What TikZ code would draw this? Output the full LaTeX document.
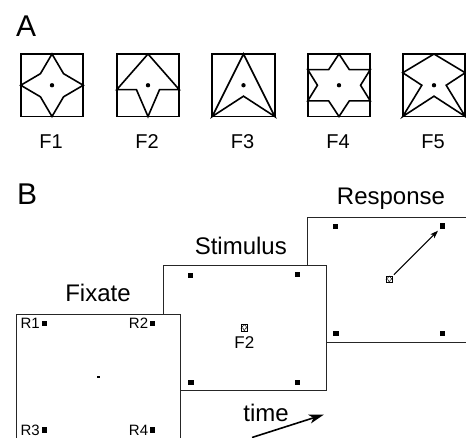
\documentclass[tikz,border=0pt]{standalone}
\usepackage{fontspec}
\setmainfont{Liberation Sans}
\usetikzlibrary{arrows.meta}
\begin{document}
\begin{tikzpicture}[x=1pt,y=-1pt,
  figbox/.style={draw, line width=1.7pt, minimum size=62.5pt, inner sep=0pt},
  shp/.style={line width=1.6pt, line join=miter},
  fdot/.style={circle, fill=black, inner sep=0pt, minimum size=4.4pt},
  panel/.style={draw=black!85, fill=white, line width=0.9pt, minimum width=164pt, minimum height=125pt, anchor=north west, inner sep=0pt},
  blk/.style={fill=black, minimum size=5.4pt, inner sep=0pt},
  pat/.style={draw, fill=white, line width=0.5pt, minimum size=6.5pt, inner sep=0pt},
  flabel/.style={font=\fontsize{20}{24}\selectfont, anchor=base},
  big/.style={font=\fontsize{30}{34}\selectfont, anchor=base west, inner sep=0pt},
  ttl/.style={font=\fontsize{24}{28}\selectfont, anchor=base, inner sep=0pt},
  rlab/.style={font=\fontsize{15}{18}\selectfont, anchor=east, inner sep=0pt},
  arr/.style={line width=1pt, -{Stealth[length=8pt,width=5.5pt,inset=2pt]}},
  tarr/.style={line width=1.6pt, -{Stealth[length=15pt,width=9pt,inset=4pt]}}
]
\useasboundingbox (0,0) rectangle (466,438);

% ---------- Part A ----------
\node[big] (labA) at (16,36.7) {A};

\node[figbox] (s1) at (52,85.25) {};
\node[figbox] (s2) at (148,85.25) {};
\node[figbox] (s3) at (243.5,85.25) {};
\node[figbox] (s4) at (339,85.25) {};
\node[figbox] (s5) at (434,85.25) {};

\begin{scope}[shift={(52,85.25)}, x=31.25pt, y=-31.25pt]
  \draw[shp] (0,-1) -- (0.37,-0.37) -- (1,0) -- (0.37,0.37) -- (0,1) -- (-0.37,0.37) -- (-1,0) -- (-0.37,-0.37) -- cycle;
\end{scope}
\begin{scope}[shift={(148,85.25)}, x=31.25pt, y=-31.25pt]
  \draw[shp] (0,-1) -- (1,0.14) -- (0.37,0.14) -- (0,1) -- (-0.37,0.14) -- (-1,0.14) -- cycle;
\end{scope}
\begin{scope}[shift={(243.5,85.25)}, x=31.25pt, y=-31.25pt]
  \draw[shp] (0,-1) -- (1,1) -- (0,0.35) -- (-1,1) -- cycle;
\end{scope}
\begin{scope}[shift={(339,85.25)}, x=31.25pt, y=-31.25pt]
  \draw[shp] (0,-1) -- (0.33,-0.5) -- (1,-0.5) -- (0.69,0) -- (1,0.5) -- (0.33,0.5) -- (0,1) -- (-0.33,0.5) -- (-1,0.5) -- (-0.69,0) -- (-1,-0.5) -- (-0.33,-0.5) -- cycle;
\end{scope}
\begin{scope}[shift={(434,85.25)}, x=31.25pt, y=-31.25pt]
  \draw[shp] (0,-1) -- (1,-0.4) -- (0.39,0) -- (1,1) -- (0,0.35) -- (-1,1) -- (-0.39,0) -- (-1,-0.4) -- cycle;
\end{scope}

\node[fdot] (d1) at (52,85.25) {};
\node[fdot] (d2) at (148,85.25) {};
\node[fdot] (d3) at (243.5,85.25) {};
\node[fdot] (d4) at (339,85.25) {};
\node[fdot] (d5) at (434,85.25) {};

\node[flabel] (l1) at (51,149) {F1};
\node[flabel] (l2) at (147,149) {F2};
\node[flabel] (l3) at (242.5,149) {F3};
\node[flabel] (l4) at (338,149) {F4};
\node[flabel] (l5) at (433,149) {F5};

% ---------- Part B ----------
\node[big] (labB) at (17,205) {B};

% Response panel
\node[panel, minimum width=158.5pt] (resp) at (307,217) {};
\node[ttl] (respT) at (391,205) {Response};
\node[blk] (rq1) at (335.5,226.5) {};
\node[blk] (rq2) at (442.7,226) {};
\node[blk] (rq3) at (336,333.5) {};
\node[blk] (rq4) at (442.7,333.8) {};
\node[pat] (rpat) at (389.3,279.3) {};
\begin{scope}[shift={(389.3,279.3)}, x=3.25pt, y=-3.25pt]
  \draw[line width=0.45pt] (0,-1) -- (1,0.14) -- (0.37,0.14) -- (0,1) -- (-0.37,0.14) -- (-1,0.14) -- cycle;
\end{scope}
\draw[arr, shorten <=1.5pt, shorten >=2.5pt] (rpat) -- (rq2);

% Stimulus panel
\node[panel, minimum width=163pt] (stim) at (163,265) {};
\node[ttl] (stimT) at (240.8,255) {Stimulus};
\node[blk] (sq1) at (190.5,275.5) {};
\node[blk] (sq2) at (297.7,274.5) {};
\node[blk] (sq3) at (191,382.3) {};
\node[blk] (sq4) at (297.7,382.3) {};
\node[pat] (spat) at (244.3,327.7) {};
\begin{scope}[shift={(244.3,327.7)}, x=3.25pt, y=-3.25pt]
  \draw[line width=0.45pt] (0,-1) -- (1,0.14) -- (0.37,0.14) -- (0,1) -- (-0.37,0.14) -- (-1,0.14) -- cycle;
\end{scope}
\node[font=\fontsize{17}{20}\selectfont, anchor=base, inner sep=0pt] (sF2) at (244.3,348.3) {F2};

% Fixate panel
\node[panel, minimum width=164pt] (fix) at (16,314) {};
\node[ttl] (fixT) at (98,302) {Fixate};
\node[blk] (fq1) at (44.3,323.3) {};
\node[blk] (fq2) at (152.7,323.3) {};
\node[blk] (fq3) at (44.3,430) {};
\node[blk] (fq4) at (152.7,430) {};
\node[rlab] (R1) at ([xshift=-1.5pt]fq1.west) {R1};
\node[rlab] (R2) at ([xshift=-1.5pt]fq2.west) {R2};
\node[rlab] (R3) at ([xshift=-1.5pt]fq3.west) {R3};
\node[rlab] (R4) at ([xshift=-1.5pt]fq4.west) {R4};
\node[fill=black, minimum size=2.4pt, inner sep=0pt] (fc) at (98.3,376.7) {};

% time arrow
\node[ttl] (timeT) at (266,421) {time};
\coordinate (t0) at (252,437.5);
\coordinate (t1) at (324,414.5);
\draw[tarr] (t0) -- (t1);

\end{tikzpicture}
\end{document}
